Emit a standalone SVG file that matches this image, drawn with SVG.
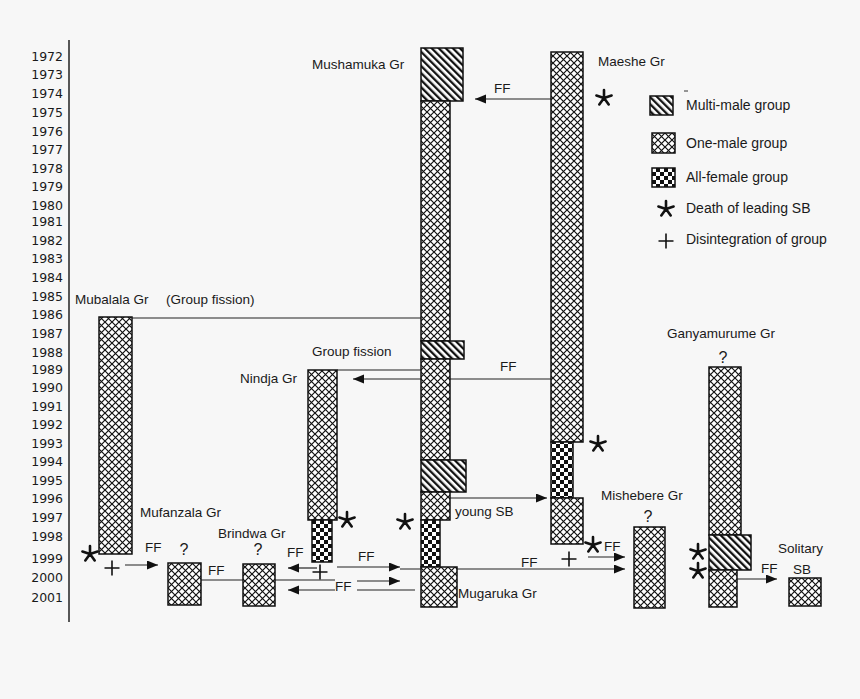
<svg xmlns="http://www.w3.org/2000/svg" width="860" height="699" viewBox="0 0 860 699">
<style>
.yr{font-family:"DejaVu Sans",sans-serif;font-size:12.5px;fill:#1a1a1a;text-anchor:end}
.lb{font-family:"Liberation Sans",Arial,sans-serif;font-size:13.5px;fill:#1a1a1a}
.lg{font-family:"Liberation Sans",Arial,sans-serif;font-size:14px;fill:#1a1a1a}
.q{font-family:"Liberation Sans",Arial,sans-serif;font-size:16px;fill:#1a1a1a;text-anchor:middle}
.one{fill:url(#pOne);stroke:#111;stroke-width:1.5}
.multi{fill:url(#pMulti);stroke:#111;stroke-width:1.5}
.fem{fill:url(#pFem);stroke:#111;stroke-width:1.5}
.ln{stroke:#222;stroke-width:1.2;fill:none}
.ar{stroke:#222;stroke-width:1.2;fill:none;marker-end:url(#ah)}
</style>
<defs>
<pattern id="pOne" patternUnits="userSpaceOnUse" width="7" height="7">
<rect width="7" height="7" fill="#fff"/>
<path d="M0,0 L7,7 M7,0 L0,7" stroke="#111" stroke-width="1.2"/>
</pattern>
<pattern id="pMulti" patternUnits="userSpaceOnUse" width="5" height="5" patternTransform="rotate(-45)">
<rect width="5" height="5" fill="#fff"/>
<rect x="0" y="0" width="2.3" height="5" fill="#111"/>
</pattern>
<pattern id="pFem" patternUnits="userSpaceOnUse" width="8" height="8">
<rect width="8" height="8" fill="#fff"/>
<rect x="0" y="0" width="4" height="4" fill="#111"/>
<rect x="4" y="4" width="4" height="4" fill="#111"/>
</pattern>
<marker id="ah" markerUnits="userSpaceOnUse" markerWidth="12" markerHeight="10" refX="11" refY="4.5" orient="auto">
<path d="M0,0 L11,4.5 L0,9 z" fill="#111"/>
</marker>
<g id="ast"><path d="M0,-8 V0 M0,0 L-7.6,-2.5 M0,0 L7.6,-2.5 M0,0 L-4.7,6.5 M0,0 L4.7,6.5" stroke="#111" stroke-width="2.6" stroke-linecap="round" fill="none"/></g>
<g id="plus"><path d="M-7.5,0 H7.5 M0,-7.5 V7.5" stroke="#111" stroke-width="1.6" fill="none"/></g>
</defs>
<rect width="860" height="699" fill="#f7f7f7"/>

<g id="axis">
<line x1="69" y1="40" x2="69" y2="622" stroke="#222" stroke-width="1.5"/>
<text class="yr" x="63" y="60.5">1972</text>
<text class="yr" x="63" y="79">1973</text>
<text class="yr" x="63" y="97.5">1974</text>
<text class="yr" x="63" y="116.5">1975</text>
<text class="yr" x="63" y="135.5">1976</text>
<text class="yr" x="63" y="153.5">1977</text>
<text class="yr" x="63" y="172.5">1978</text>
<text class="yr" x="63" y="190.5">1979</text>
<text class="yr" x="63" y="209.5">1980</text>
<text class="yr" x="63" y="225.5">1981</text>
<text class="yr" x="63" y="244.5">1982</text>
<text class="yr" x="63" y="262.5">1983</text>
<text class="yr" x="63" y="281.5">1984</text>
<text class="yr" x="63" y="300.5">1985</text>
<text class="yr" x="63" y="318.5">1986</text>
<text class="yr" x="63" y="337.5">1987</text>
<text class="yr" x="63" y="356.5">1988</text>
<text class="yr" x="63" y="373.5">1989</text>
<text class="yr" x="63" y="391.5">1990</text>
<text class="yr" x="63" y="410.5">1991</text>
<text class="yr" x="63" y="428.5">1992</text>
<text class="yr" x="63" y="447.5">1993</text>
<text class="yr" x="63" y="465.5">1994</text>
<text class="yr" x="63" y="484.5">1995</text>
<text class="yr" x="63" y="502.5">1996</text>
<text class="yr" x="63" y="521.5">1997</text>
<text class="yr" x="63" y="540.5">1998</text>
<text class="yr" x="63" y="562.5">1999</text>
<text class="yr" x="63" y="581.5">2000</text>
<text class="yr" x="63" y="601.5">2001</text>
</g>

<g id="connectors">
<line class="ar" x1="551" y1="99" x2="475" y2="99"/>
<text class="lb" x="494" y="93">FF</text>
<line class="ln" x1="132" y1="318" x2="421" y2="318"/>
<line class="ln" x1="337" y1="370" x2="421" y2="370"/>
<line class="ar" x1="551" y1="379" x2="353" y2="379"/>
<text class="lb" x="500" y="371">FF</text>
<line class="ar" x1="450" y1="498" x2="547" y2="498"/>
<line class="ar" x1="125" y1="565" x2="158" y2="565"/>
<text class="lb" x="145" y="552">FF</text>
<line class="ln" x1="201" y1="580" x2="335" y2="580"/>
<text class="lb" x="208" y="575">FF</text>
<line class="ar" x1="357" y1="581" x2="400" y2="581"/>
<line class="ar" x1="335" y1="590" x2="288" y2="590"/>
<line class="ln" x1="357" y1="590" x2="415" y2="590"/>
<text class="lb" x="335" y="591">FF</text>
<line class="ar" x1="317" y1="568" x2="288" y2="568"/>
<text class="lb" x="287" y="557">FF</text>
<line class="ar" x1="337" y1="567" x2="400" y2="567"/>
<text class="lb" x="358" y="561">FF</text>
<line class="ar" x1="400" y1="569" x2="625" y2="569"/>
<text class="lb" x="521" y="567">FF</text>
<line class="ar" x1="588" y1="557" x2="625" y2="557"/>
<text class="lb" x="604" y="551">FF</text>
<line class="ar" x1="737" y1="579" x2="777" y2="579"/>
<text class="lb" x="761" y="573">FF</text>
<text class="lb" x="455" y="516">young SB</text>
<text class="lb" x="312" y="356">Group fission</text>
<text class="lb" x="166" y="304">(Group fission)</text>
</g>

<g id="mushamuka">
<text class="lb" x="312" y="69">Mushamuka Gr</text>
<rect class="multi" x="421" y="48" width="42" height="53"/>
<rect class="one" x="421" y="101" width="29" height="240"/>
<rect class="multi" x="421" y="341" width="43" height="18"/>
<rect class="one" x="421" y="359" width="29" height="101"/>
<rect class="multi" x="421" y="460" width="45" height="32"/>
<rect class="one" x="421" y="492" width="29" height="28"/>
<rect class="fem" x="421" y="520" width="19" height="47"/>
<use href="#ast" x="405" y="522"/>
</g>

<g id="mugaruka">
<rect class="one" x="421" y="567" width="36" height="40"/>
<text class="lb" x="458" y="598">Mugaruka Gr</text>
</g>

<g id="maeshe">
<text class="lb" x="598" y="66">Maeshe Gr</text>
<rect class="one" x="551" y="52" width="32" height="390"/>
<rect class="fem" x="551" y="442" width="22" height="56"/>
<rect class="one" x="551" y="498" width="32" height="46"/>
<use href="#ast" x="604" y="98"/>
<use href="#ast" x="598" y="444"/>
<use href="#ast" x="593" y="545"/>
<use href="#plus" x="569" y="559"/>
</g>

<g id="mubalala">
<text class="lb" x="75" y="304">Mubalala Gr</text>
<rect class="one" x="99" y="317" width="33" height="237"/>
<use href="#ast" x="90" y="554"/>
<use href="#plus" x="112" y="568"/>
</g>

<g id="nindja">
<text class="lb" x="240" y="383">Nindja Gr</text>
<rect class="one" x="308" y="370" width="29" height="150"/>
<rect class="fem" x="312" y="520" width="20" height="42"/>
<use href="#ast" x="347" y="520"/>
<use href="#plus" x="320" y="572"/>
</g>

<g id="mufanzala">
<text class="lb" x="140" y="517">Mufanzala Gr</text>
<text class="q" x="184" y="555">?</text>
<rect class="one" x="168" y="563" width="33" height="42"/>
</g>

<g id="brindwa">
<text class="lb" x="218" y="538">Brindwa Gr</text>
<text class="q" x="258" y="555">?</text>
<rect class="one" x="243" y="564" width="32" height="42"/>
</g>

<g id="mishebere">
<text class="lb" x="601" y="500">Mishebere Gr</text>
<text class="q" x="648" y="522">?</text>
<rect class="one" x="634" y="527" width="31" height="81"/>
</g>

<g id="ganyamurume">
<text class="lb" x="667" y="338">Ganyamurume Gr</text>
<text class="q" x="723" y="363">?</text>
<rect class="one" x="709" y="367" width="32" height="168"/>
<rect class="multi" x="709" y="535" width="42" height="35"/>
<rect class="one" x="709" y="570" width="28" height="37"/>
<use href="#ast" x="698" y="552"/>
<use href="#ast" x="698" y="571"/>
</g>

<g id="solitary">
<text class="lb" x="778" y="553">Solitary</text>
<text class="lb" x="793" y="574">SB</text>
<rect class="one" x="789" y="578" width="32" height="28"/>
</g>

<g id="legend">
<line x1="684" y1="91" x2="688" y2="91" stroke="#333" stroke-width="1"/>
<rect class="multi" x="650" y="96" width="23" height="19"/>
<text class="lg" x="686" y="110">Multi-male group</text>
<rect class="one" x="652" y="133" width="23" height="20"/>
<text class="lg" x="686" y="148">One-male group</text>
<rect class="fem" x="652" y="168" width="23" height="19"/>
<text class="lg" x="686" y="182">All-female group</text>
<use href="#ast" x="666" y="209"/>
<text class="lg" x="686" y="213">Death of leading SB</text>
<use href="#plus" x="666" y="241"/>
<text class="lg" x="686" y="244">Disintegration of group</text>
</g>
</svg>
